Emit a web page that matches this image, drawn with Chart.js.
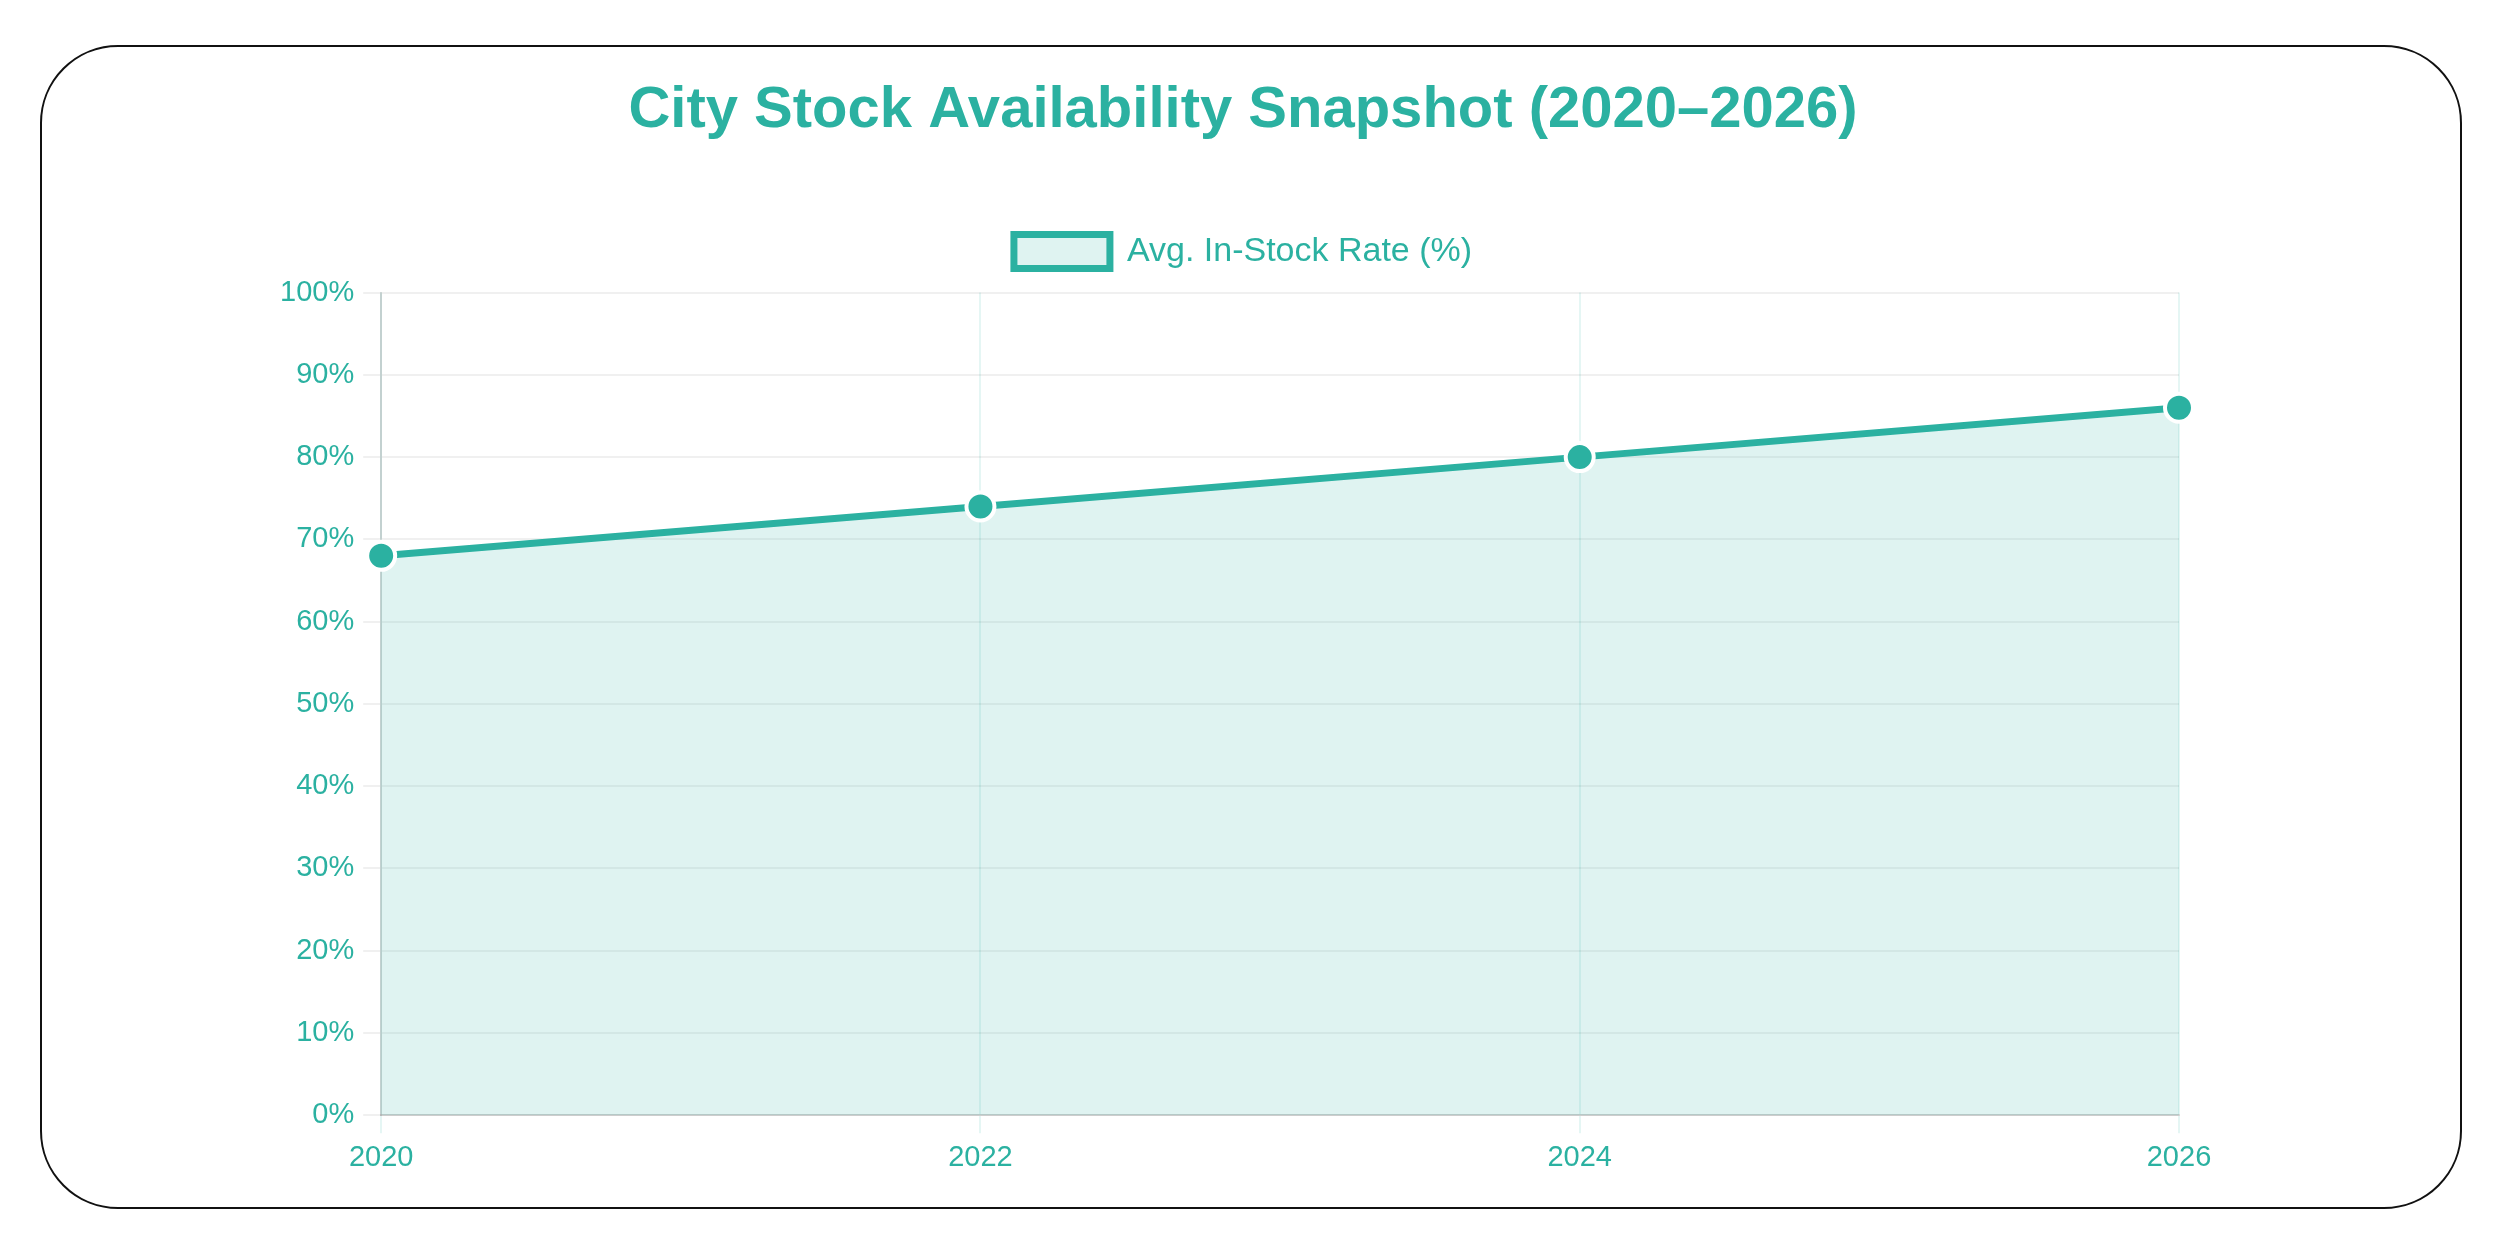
<!DOCTYPE html>
<html>
<head>
<meta charset="utf-8">
<script src="https://cdn.jsdelivr.net/npm/chart.js@4/dist/chart.umd.min.js"></script>
<style>
  html, body { margin: 0; padding: 0; background: #ffffff; width: 2497px; height: 1240px; overflow: hidden; }
  #card { position: absolute; left: 40px; top: 45px; width: 2418px; height: 1160px; border: 2px solid #111; border-radius: 78px; background: #fff; }
  #wrap { position: absolute; left: 0; top: 0; width: 2497px; height: 1240px; }
</style>
</head>
<body>
<div id="card"></div>
<div id="wrap"><canvas id="c"></canvas></div>
<script>
const categories = ['2020', '2022', '2024', '2026'];
const inStockRate = [68, 74, 80, 86];
const seriesLabel = 'Avg. In-Stock Rate (%)';
const chartTitle = 'City Stock Availability Snapshot (2020\u20132026)';

const teal = '#2bb1a1';
const font = "'Liberation Sans', Arial, Helvetica, sans-serif";

const legendMargin = {
  id: 'legendMargin',
  beforeInit(chart) {
    const origFit = chart.legend.fit;
    chart.legend.fit = function () {
      origFit.bind(chart.legend)();
      this.height += 14;
    };
  }
};

new Chart(document.getElementById('c'), {
  type: 'line',
  data: {
    labels: categories,
    datasets: [{
      label: seriesLabel,
      data: inStockRate,
      borderColor: teal,
      backgroundColor: 'rgba(43,177,161,0.15)',
      borderWidth: 7,
      fill: true,
      tension: 0,
      pointRadius: 14,
      pointBackgroundColor: teal,
      pointBorderColor: '#ffffff',
      pointBorderWidth: 4
    }]
  },
  options: {
    responsive: true,
    maintainAspectRatio: false,
    animation: false,
    layout: { padding: { left: 271, right: 282, top: 46, bottom: 58 } },
    plugins: {
      title: {
        display: true,
        text: chartTitle,
        color: teal,
        font: { family: font, size: 58, weight: 'bold' },
        padding: { top: 30, bottom: 79 }
      },
      legend: {
        display: true,
        labels: {
          color: teal,
          font: { family: font, size: 34 },
          boxWidth: 96,
          boxHeight: 34,
          padding: 10
        }
      },
      tooltip: { enabled: false }
    },
    scales: {
      x: {
        offset: false,
        grid: { color: 'rgba(43,177,161,0.12)', lineWidth: 2, tickLength: 18 },
        border: { color: 'rgba(0,0,0,0.15)', width: 2 },
        ticks: { color: teal, font: { family: font, size: 29 }, padding: 7, maxRotation: 0 }
      },
      y: {
        min: 0,
        max: 100,
        grid: { color: 'rgba(0,0,0,0.06)', lineWidth: 2, tickLength: 18 },
        border: { color: 'rgba(0,0,0,0.15)', width: 2 },
        ticks: {
          stepSize: 10,
          color: teal,
          font: { family: font, size: 29 },
          padding: 9,
          callback: v => v + '%'
        }
      },
      spacer: {
        type: 'linear',
        position: 'right',
        display: true,
        min: 0,
        max: 100,
        afterFit: scale => { scale.width = 36; },
        grid: { display: false, drawOnChartArea: false },
        border: { display: false },
        ticks: { display: false }
      }
    }
  },
  plugins: [legendMargin]
});
</script>
</body>
</html>
